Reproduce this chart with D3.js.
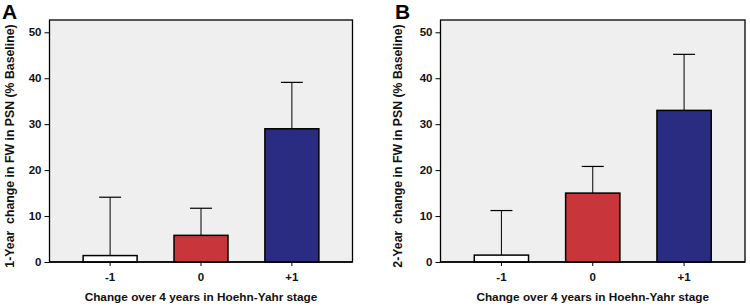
<!DOCTYPE html>
<html><head><meta charset="utf-8">
<script src="https://cdn.jsdelivr.net/npm/d3@7"></script>
<style>body{margin:0;background:#fff}svg{display:block}text{font-family:"Liberation Sans",Arial,sans-serif;font-weight:bold;white-space:pre}</style>
</head><body><svg id="c" width="750" height="307"></svg>
<script>
const categories = ["-1", "0", "+1"];
const meansA = [1.4, 5.8, 29.0];
const errA = [14.1, 11.7, 39.1];
const meansB = [1.5, 15.0, 33.0];
const errB = [11.2, 20.8, 45.2];
const yTicks = [0, 10, 20, 30, 40, 50];
const colors = ["#ffffff", "#c8363b", "#2a2c82"];
const yTitles = ["1-Year  change in FW in PSN (% Baseline)", "2-Year  change in FW in PSN (% Baseline)"];
const xTitle = "Change over 4 years in Hoehn-Yahr stage";
const panelLabels = ["A", "B"];

(function () {
const svg = d3.select("#c");
const panels = [
  {x0: 49.5, x1: 352.5, means: meansA, errs: errA, label: panelLabels[0], lx: 2, tx: 10, yt: yTitles[0]},
  {x0: 440.5, x1: 745, means: meansB, errs: errB, label: panelLabels[1], lx: 395, tx: 398, yt: yTitles[1]}
];
const plotTop = 20, plotBottom = 262;
panels.forEach(p => {
  const g = svg.append("g");
  const y = d3.scaleLinear().domain([0, 50]).range([plotBottom, 32.3]);
  const x = d3.scaleBand().domain(categories).range([p.x0, p.x1]).paddingInner(0.406).paddingOuter(0.37);
  g.append("rect").attr("x", p.x0).attr("y", plotTop).attr("width", p.x1 - p.x0).attr("height", plotBottom - plotTop)
    .attr("fill", "#efefef").attr("stroke", "#000").attr("stroke-width", 1.3);
  categories.forEach((c, i) => {
    const cx = x(c) + x.bandwidth() / 2;
    g.append("line").attr("x1", cx).attr("x2", cx).attr("y1", y(p.means[i])).attr("y2", y(p.errs[i]))
      .attr("stroke", "#000").attr("stroke-width", 1);
    g.append("line").attr("x1", cx - 11).attr("x2", cx + 11).attr("y1", y(p.errs[i])).attr("y2", y(p.errs[i]))
      .attr("stroke", "#000").attr("stroke-width", 1.2);
    g.append("rect").attr("x", x(c)).attr("y", y(p.means[i])).attr("width", x.bandwidth())
      .attr("height", y(0) - y(p.means[i])).attr("fill", colors[i]).attr("stroke", "#000").attr("stroke-width", 1.5);
  });
  const ya = g.append("g").attr("transform", `translate(${p.x0},0)`)
    .call(d3.axisLeft(y).tickValues(yTicks).tickSize(5).tickPadding(3));
  ya.select(".domain").remove();
  ya.selectAll("text").attr("font-size", 11.5).attr("font-family", "Liberation Sans, Arial, sans-serif").attr("font-weight", "bold").attr("fill", "#111");
  ya.selectAll("line").attr("stroke", "#000");
  const xa = g.append("g").attr("transform", `translate(0,${plotBottom})`)
    .call(d3.axisBottom(x).tickSize(4).tickPadding(7));
  xa.select(".domain").remove();
  xa.selectAll("text").attr("font-size", 11.5).attr("font-family", "Liberation Sans, Arial, sans-serif").attr("font-weight", "bold").attr("fill", "#111");
  xa.selectAll("line").attr("stroke", "#000");
  g.append("line").attr("x1", p.x0).attr("x2", p.x1).attr("y1", plotBottom).attr("y2", plotBottom).attr("stroke", "#000").attr("stroke-width", 1.5);
  g.append("text").attr("x", (p.x0 + p.x1) / 2).attr("y", 300.5).attr("text-anchor", "middle")
    .attr("font-size", 11.8).attr("fill", "#111").text(xTitle);
  g.append("text").attr("transform", `translate(${p.tx},${(plotTop + plotBottom) / 2 + 5}) rotate(-90)`)
    .attr("text-anchor", "middle").attr("dy", "0.35em").attr("font-size", 12.3).attr("fill", "#111").text(p.yt);
  g.append("text").attr("x", p.lx).attr("y", 18.5).attr("font-size", 21).attr("fill", "#000").text(p.label);
});
})();
</script></body></html>
